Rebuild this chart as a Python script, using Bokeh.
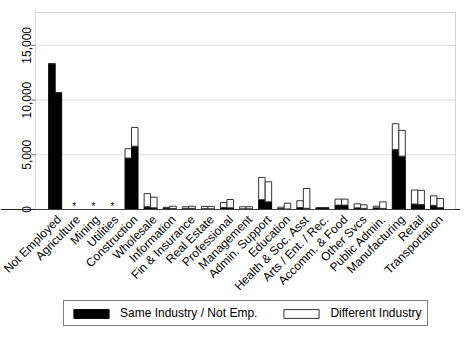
import numpy as np
from math import pi
from bokeh.plotting import figure
from bokeh.models import (ColumnDataSource, Range1d, Legend, LegendItem, BoxAnnotation, Span)
from bokeh.core.properties import value
from bokeh.embed import file_html
from bokeh.resources import INLINE

categories = ["Not Employed", "Agriculture", "Mining", "Utilities", "Construction",
              "Wholesale", "Information", "Fin & Insurance", "Real Estate", "Professional",
              "Management", "Admin. Support", "Education", "Health & Soc. Asst",
              "Arts / Ent. / Rec.", "Accomm. & Food", "Other Svcs", "Public Admin.",
              "Manufacturing", "Retail", "Transportation"]

# left bar of each pair
a_same = [13325, 0, 0, 0, 4700, 250, 130, 100, 70, 180, 60, 900, 90, 180, 150, 400, 150, 150, 5490, 500, 380]
a_diff = [0, 0, 0, 0, 850, 1200, 70, 150, 210, 460, 190, 2030, 120, 620, 30, 550, 370, 150, 2350, 1280, 870]
# right bar of each pair
b_same = [10675, 0, 0, 0, 5790, 150, 80, 100, 60, 150, 60, 700, 50, 110, 150, 400, 100, 100, 4875, 450, 170]
b_diff = [0, 0, 0, 0, 1710, 975, 220, 200, 220, 765, 190, 1830, 530, 1810, 30, 550, 330, 600, 2350, 1300, 830]

star_cats = ["Agriculture", "Mining", "Utilities"]
yticks = [0, 5000, 10000, 15000]
ytick_labels = [f"{t:,}" for t in yticks]
ymax = 18000

FONT = "Liberation Sans"

# ---- layout (pixels) ----
W, H = 460, 335                 # figure = drawing frame
BOX_L, BOX_R = 35, 455          # plot box edges (px from left)
BOX_T, BOX_B = 12, 209          # plot box edges (px from top)
n = len(categories)
xlo, xhi = -1.03, n - 1 + 0.97  # box edges in category-index units
UPX = (xhi - xlo) / (BOX_R - BOX_L)
UPY = ymax / (BOX_B - BOX_T)

idx = np.arange(n)
src = ColumnDataSource(dict(
    idx=idx, cat=categories, zero=[0] * n,
    xa=idx - 0.17, xb=idx + 0.17,
    a_same=a_same, a_top=list(np.array(a_same) + np.array(a_diff)),
    b_same=b_same, b_top=list(np.array(b_same) + np.array(b_diff)),
))
star_idx = [categories.index(c) for c in star_cats]
star_src = ColumnDataSource(dict(x=star_idx, txt=["*"] * len(star_idx), y=[0] * len(star_idx)))
ytick_src = ColumnDataSource(dict(y=yticks, lab=ytick_labels, x=[xlo] * len(yticks),
                                  x0=[xlo - 4 * UPX] * len(yticks)))
grid_src = ColumnDataSource(dict(y=yticks[1:], x0=[xlo] * (len(yticks) - 1),
                                 x1=[xhi] * (len(yticks) - 1)))

p = figure(x_range=Range1d(xlo - BOX_L * UPX, xhi + (W - BOX_R) * UPX),
           y_range=Range1d(-(H - BOX_B) * UPY, BOX_B * UPY),
           width=W, height=H,
           output_backend="svg", toolbar_location=None,
           min_border_left=0, min_border_top=0, min_border_right=0, min_border_bottom=0,
           background_fill_color="white", border_fill_color="white")

# horizontal gridlines inside the box
p.segment(x0="x0", x1="x1", y0="y", y1="y", source=grid_src, line_color="#dddddd", line_width=1)

w = 0.34
ra1 = p.vbar(x="xa", bottom=0, top="a_same", width=w,
             fill_color="black", line_color="black", line_width=1, source=src)
ra2 = p.vbar(x="xa", bottom="a_same", top="a_top", width=w,
             fill_color="white", line_color="#333333", line_width=1, source=src)
rb1 = p.vbar(x="xb", bottom=0, top="b_same", width=w,
             fill_color="black", line_color="black", line_width=1, source=src)
rb2 = p.vbar(x="xb", bottom="b_same", top="b_top", width=w,
             fill_color="white", line_color="#333333", line_width=1, source=src)

# plot box and baseline
p.add_layout(BoxAnnotation(left=xlo, right=xhi, bottom=0, top=ymax,
                           fill_alpha=0, line_color="#777777", line_width=1, level="overlay"))
p.add_layout(Span(location=0, dimension="width", line_color="#222222", line_width=1))

# y-axis ticks and labels
p.segment(x0="x0", x1="x", y0="y", y1="y", source=ytick_src, line_color="#666666", line_width=1)
p.text(x="x", y="y", text="lab", source=ytick_src, angle=pi / 2,
       text_align="center", text_baseline="alphabetic", x_offset=-9.5,
       text_font=value(FONT), text_font_size="12px", text_color="black")

# suppressed-value markers
p.text(x="x", y="y", text="txt", source=star_src, text_align="center",
       text_baseline="middle", y_offset=-3, text_font_size="10px", text_color="black",
       text_font=value(FONT))

# category labels (rotated 45 degrees, right end at the category)
p.text(x="idx", y="zero", text="cat", source=src, angle=pi / 4,
       text_align="right", text_baseline="middle", x_offset=4, y_offset=8,
       text_font=value(FONT), text_font_size="12px", text_color="black")

p.xaxis.visible = False
p.yaxis.visible = False
p.xgrid.grid_line_color = None
p.ygrid.grid_line_color = None
p.outline_line_color = None

legend = Legend(items=[LegendItem(label="Same Industry / Not Emp.", renderers=[ra1]),
                       LegendItem(label="Different Industry", renderers=[ra2])],
                orientation="horizontal", location=(63, 9),
                border_line_color="black", border_line_width=1,
                padding=5, spacing=22, margin=0,
                glyph_width=44, glyph_height=11, label_height=11, label_standoff=7,
                label_text_font=FONT, label_text_font_size="12px", label_text_color="black",
                background_fill_color="white")
p.add_layout(legend, "center")

open("out.html", "w").write(file_html(p, INLINE))
